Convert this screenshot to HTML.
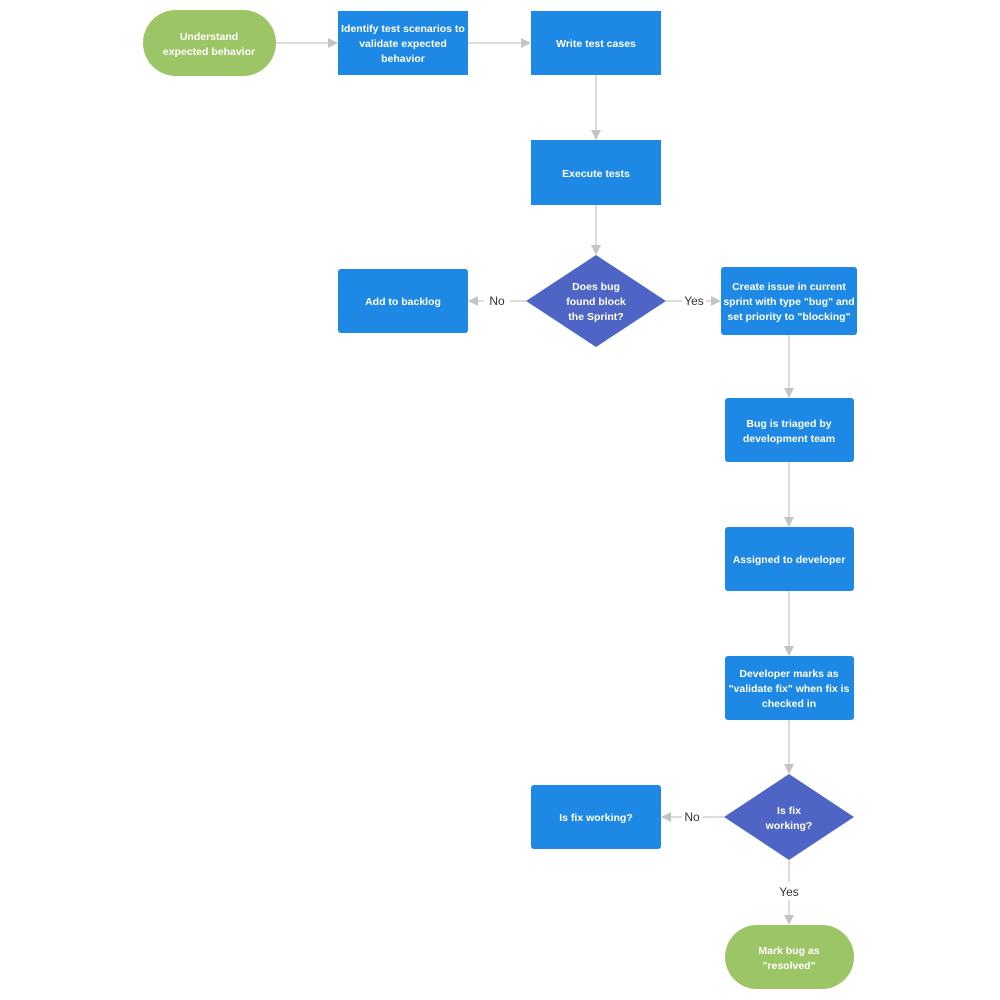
<!DOCTYPE html>
<html><head><meta charset="utf-8"><style>
html,body{margin:0;padding:0;background:#fff;width:1000px;height:1000px;overflow:hidden}
svg text{font-family:"Liberation Sans",sans-serif;font-size:10.5px;font-weight:bold;fill:#fff;text-anchor:middle}
svg text.l{font-weight:normal;fill:#333;font-size:12px}
</style></head><body>
<svg width="1000" height="1000" viewBox="0 0 1000 1000" xmlns="http://www.w3.org/2000/svg">
<defs><marker id="a" markerWidth="10" markerHeight="10" refX="9" refY="5" orient="auto" markerUnits="userSpaceOnUse"><path d="M0,0 L10,5 L0,10 z" fill="#c4c4c4"/></marker></defs>
<g stroke="#c8c8c8" stroke-width="1.3" fill="none">
<line x1="276" y1="43" x2="337" y2="43" marker-end="url(#a)"/>
<line x1="468" y1="43" x2="530" y2="43" marker-end="url(#a)"/>
<line x1="596" y1="75" x2="596" y2="139" marker-end="url(#a)"/>
<line x1="596" y1="205" x2="596" y2="254" marker-end="url(#a)"/>
<line x1="526" y1="301" x2="510" y2="301"/>
<line x1="484" y1="301" x2="469" y2="301" marker-end="url(#a)"/>
<line x1="666" y1="301" x2="682" y2="301"/>
<line x1="706" y1="301" x2="720" y2="301" marker-end="url(#a)"/>
<line x1="789" y1="335" x2="789" y2="397" marker-end="url(#a)"/>
<line x1="789" y1="462" x2="789" y2="526" marker-end="url(#a)"/>
<line x1="789" y1="591" x2="789" y2="655" marker-end="url(#a)"/>
<line x1="789" y1="720" x2="789" y2="773" marker-end="url(#a)"/>
<line x1="724" y1="817" x2="703" y2="817"/>
<line x1="682" y1="817" x2="662" y2="817" marker-end="url(#a)"/>
<line x1="789" y1="860" x2="789" y2="882"/>
<line x1="789" y1="900" x2="789" y2="924" marker-end="url(#a)"/>
</g>
<rect x="143" y="10" width="133" height="66" rx="33" fill="#9cc566"/>
<rect x="338" y="11" width="130" height="64" fill="#1e88e5"/>
<rect x="531" y="11" width="130" height="64" fill="#1e88e5"/>
<rect x="531" y="140" width="130" height="65" fill="#1e88e5"/>
<polygon points="596,255 666,301 596,347 526,301" fill="#4f65c6"/>
<rect x="338" y="269" width="130" height="64" rx="3" fill="#1e88e5"/>
<rect x="721" y="267" width="136" height="68" rx="3" fill="#1e88e5"/>
<rect x="725" y="398" width="129" height="64" rx="3" fill="#1e88e5"/>
<rect x="725" y="527" width="129" height="64" rx="3" fill="#1e88e5"/>
<rect x="725" y="656" width="129" height="64" rx="3" fill="#1e88e5"/>
<polygon points="789,774 854,817 789,860 724,817" fill="#4f65c6"/>
<rect x="531" y="785" width="130" height="64" rx="3" fill="#1e88e5"/>
<rect x="725" y="925" width="129" height="64" rx="32" fill="#9cc566"/>
<text x="209" y="40">Understand</text><text x="209" y="55">expected behavior</text>
<text x="403" y="32">Identify test scenarios to</text><text x="403" y="47">validate expected</text><text x="403" y="62">behavior</text>
<text x="596" y="47">Write test cases</text>
<text x="596" y="177">Execute tests</text>
<text x="596" y="290">Does bug</text><text x="596" y="305">found block</text><text x="596" y="320">the Sprint?</text>
<text x="403" y="305">Add to backlog</text>
<text x="789" y="290">Create issue in current</text><text x="789" y="305">sprint with type "bug" and</text><text x="789" y="320">set priority to "blocking"</text>
<text x="789" y="427">Bug is triaged by</text><text x="789" y="442">development team</text>
<text x="789" y="563">Assigned to developer</text>
<text x="789" y="677">Developer marks as</text><text x="789" y="692">"validate fix" when fix is</text><text x="789" y="707">checked in</text>
<text x="789" y="814">Is fix</text><text x="789" y="829">working?</text>
<text x="596" y="821">Is fix working?</text>
<text x="789" y="954">Mark bug as</text><text x="789" y="969">"resolved"</text>
<text class="l" x="497" y="305">No</text>
<text class="l" x="694" y="305">Yes</text>
<text class="l" x="692" y="821">No</text>
<text class="l" x="789" y="896">Yes</text>
</svg>
</body></html>
